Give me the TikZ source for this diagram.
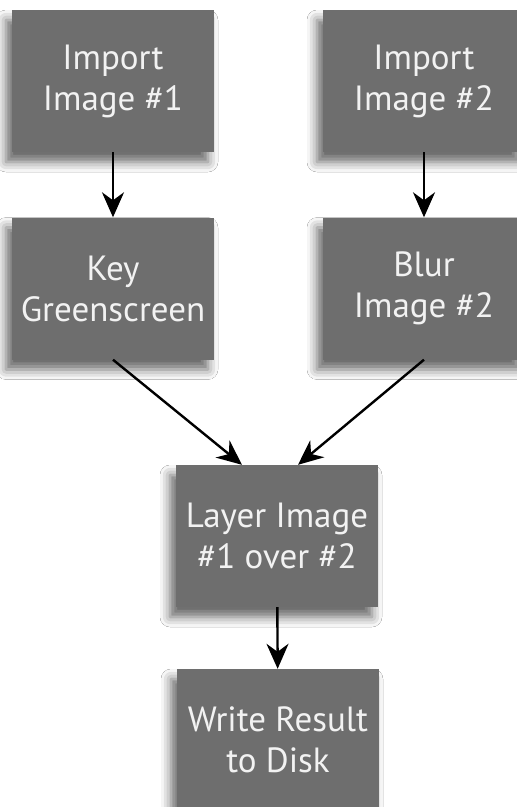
\documentclass[tikz,border=0pt]{standalone}
\usepackage{fontspec}
\setmainfont{PT Sans}
\usetikzlibrary{arrows.meta,shadows.blur}
\definecolor{boxgray}{HTML}{6E6E6E}
\definecolor{boxtext}{HTML}{F2F2F2}
\tikzset{
  stepbox/.style={rectangle, fill=boxgray, text=boxtext, align=center,
    minimum width=202pt, minimum height=142pt, inner sep=0pt,
    font=\fontsize{35}{41}\selectfont,
    blur shadow={shadow xshift=-6pt, shadow yshift=-10pt,
      shadow blur radius=10pt, shadow opacity=60}},
  flow/.style={line width=2.4pt, -{Stealth[length=25pt,width=22pt,inset=8pt]}}
}
\begin{document}
\begin{tikzpicture}[x=1pt,y=1pt]
      \useasboundingbox (0,0) rectangle (517,-807);
      \fill[white] (0,0) rectangle (517,-807);
      \clip (0,0) rectangle (517,-807);
      \draw
        (113,-81) node[stepbox] (import1){Import\\Image \#1}
        (424,-81) node[stepbox] (import2){Import\\Image \#2}
        (113,-288.5) node[stepbox] (key){Key\\Greenscreen}
        (424,-288.5) node[stepbox] (blur){Blur\\Image \#2}
        (277,-536) node[stepbox] (layer){Layer Image\\\#1 over \#2}
        (278,-740) node[stepbox] (write){Write Result\\to Disk};
      \begin{scope}[flow]
        \draw (import1) to (key);
        \draw (import2) to (blur);
        \draw (key.south) to ([xshift=-35pt]layer.north);
        \draw (blur.south) to ([xshift=21pt]layer.north);
        \draw (layer) to (write);
      \end{scope}
    \end{tikzpicture}
\end{document}
